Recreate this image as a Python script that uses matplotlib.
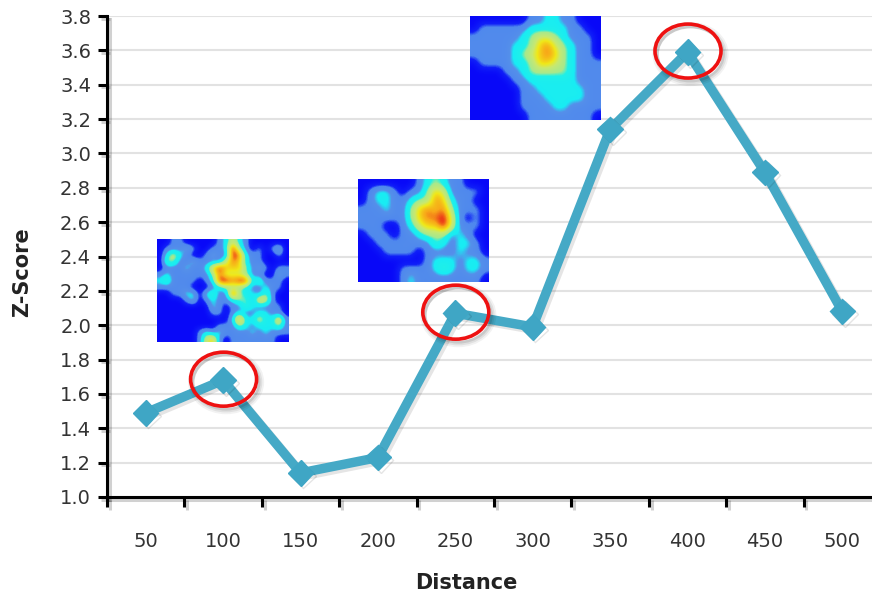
import matplotlib
matplotlib.use("Agg")
import matplotlib.pyplot as plt
import numpy as np
from matplotlib.colors import LinearSegmentedColormap
from matplotlib.patches import Ellipse
import matplotlib.patheffects as pe

categories = ["50", "100", "150", "200", "250", "300", "350", "400", "450", "500"]
z_scores = [1.49, 1.68, 1.14, 1.23, 2.07, 1.99, 3.14, 3.59, 2.89, 2.08]
y_ticks = [1.0, 1.2, 1.4, 1.6, 1.8, 2.0, 2.2, 2.4, 2.6, 2.8, 3.0, 3.2, 3.4, 3.6, 3.8]
highlighted = ["100", "250", "400"]

heat_100 = [
    [0,0,1,1,0,0,0,0,0,1,2,4,2,1,0,0,0,0,0,0],
    [0,1,1,1,2,1,0,0,1,1,2,7,3,1,0,1,0,1,2,0],
    [0,2,4,2,1,0,0,1,2,1,1,7,6,2,1,1,0,0,1,0],
    [0,3,3,1,1,2,1,1,1,1,4,6,5,2,1,1,0,0,0,0],
    [0,1,1,1,2,1,1,2,5,7,5,5,5,3,1,2,1,0,1,1],
    [1,2,1,1,1,1,1,1,3,6,4,4,4,3,1,1,0,0,2,1],
    [2,3,1,1,1,1,0,1,2,7,7,6,7,7,2,3,1,1,1,0],
    [1,1,1,1,1,0,0,0,1,2,3,3,3,2,1,1,2,1,1,0],
    [0,0,1,1,2,2,0,2,3,1,1,7,3,2,2,1,3,1,0,0],
    [0,0,0,0,1,2,0,1,2,1,1,2,3,3,1,5,4,1,0,0],
    [0,0,0,0,0,0,0,0,2,1,0,1,1,3,2,1,1,1,1,0],
    [0,0,0,0,0,0,0,0,1,1,0,1,2,1,1,2,2,1,1,0],
    [0,0,0,0,0,0,0,0,0,0,0,2,6,2,2,4,2,2,5,1],
    [0,0,0,0,0,0,0,0,0,1,1,1,3,2,1,2,2,2,3,1],
    [0,0,0,0,0,0,1,2,1,2,1,1,1,1,2,1,2,1,1,1],
    [0,0,0,0,0,0,1,4,5,1,0,1,1,1,1,1,1,1,0,0],
]
heat_250 = [
    [0,0,0,0,0,0,0,1,2,3,2,1,1,0,0,0],
    [0,1,2,2,1,0,1,1,3,5,4,1,1,1,1,0],
    [0,1,2,2,1,1,2,3,3,6,5,2,1,1,0,0],
    [1,1,1,2,1,1,3,5,6,5,6,3,1,1,1,0],
    [1,1,1,1,1,1,3,5,6,6,7,4,1,0,1,0],
    [1,1,1,0,0,1,2,4,5,5,7,4,1,1,1,0],
    [0,1,1,1,0,1,1,2,3,3,3,1,2,1,0,0],
    [0,0,1,1,1,1,1,1,1,3,2,1,2,2,1,0],
    [0,0,0,1,1,1,1,0,1,1,1,1,2,1,1,0],
    [0,0,0,0,0,0,0,0,1,2,2,2,1,2,2,1],
    [0,0,0,0,0,1,1,1,1,2,3,2,1,2,2,1],
    [0,0,0,0,0,1,2,1,1,1,1,1,1,1,1,0],
]
heat_400 = [
    [0,0,0,0,0,0,0,1,1,2,2,1,1,0,0,0],
    [0,1,1,1,1,1,1,2,2,2,2,2,1,1,0,0],
    [1,1,1,1,1,1,2,3,4,4,3,2,1,1,1,0],
    [1,1,1,1,1,2,2,3,5,6,4,3,2,1,1,0],
    [1,1,1,1,1,2,3,4,5,6,5,3,2,1,1,0],
    [0,1,1,1,1,2,2,3,5,5,4,3,2,1,1,1],
    [0,0,0,0,1,1,2,3,3,3,3,3,2,1,1,1],
    [0,0,0,0,0,1,1,2,2,2,2,2,2,1,1,1],
    [0,0,0,0,0,0,1,1,2,2,2,2,2,2,1,1],
    [0,0,0,0,0,0,1,1,1,2,2,2,2,2,1,1],
    [0,0,0,0,0,0,1,1,1,1,2,2,1,1,1,1],
    [0,0,0,0,0,0,0,1,1,1,1,1,1,1,1,0],
]

W, H = 872, 595
LEFT, RIGHT, TOP, BOTTOM = 107, 881, 16, 497
fig = plt.figure(figsize=(W / 100, H / 100), dpi=100, facecolor="white")
ax = fig.add_axes([LEFT / W, 1 - BOTTOM / H, (RIGHT - LEFT) / W, (BOTTOM - TOP) / H])
x = np.arange(len(categories))
ax.set_xlim(-0.5, len(categories) - 0.5)
ax.set_ylim(y_ticks[0], y_ticks[-1])

ax.set_yticks(y_ticks, [f"{v:.1f}" for v in y_ticks])
ax.set_xticks(x, categories)
ax.set_xticks(x[:-1] + 0.5, minor=True)
ax.grid(axis="y", color="#e2e2e2", lw=1.5, zorder=0)
ax.set_axisbelow(True)
for s in ("top", "right"):
    ax.spines[s].set_visible(False)
shadow = [pe.SimpleLineShadow(offset=(2, -2), shadow_color="#000000", alpha=0.18), pe.Normal()]
for s in ("left", "bottom"):
    ax.spines[s].set_linewidth(2.2)
    ax.spines[s].set_path_effects(shadow)
ax.tick_params(axis="y", length=6.5, width=2.2, pad=5, labelsize=14, labelcolor="#333333")
ax.tick_params(axis="x", which="major", length=0, pad=25, labelsize=14, labelcolor="#333333")
ax.tick_params(axis="x", which="minor", length=7, width=2.2)
for t in ax.yaxis.get_major_ticks() + ax.xaxis.get_minor_ticks():
    t.tick1line.set_path_effects(shadow)
# tick at the far left of the category band
ax.plot([-0.5, -0.5], [0, -10 / (BOTTOM - TOP)], transform=ax.get_xaxis_transform(),
        color="black", lw=2.2, clip_on=False, solid_capstyle="butt", path_effects=shadow)

ax.set_xlabel("Distance", fontweight="bold", fontsize=15, color="#222222")
ax.xaxis.set_label_coords((466 - LEFT) / (RIGHT - LEFT), -(583 - BOTTOM) / (BOTTOM - TOP), ax.transAxes)
ax.xaxis.label.set_va("center")
ax.set_ylabel("Z-Score", fontweight="bold", fontsize=15, color="#222222")
ax.yaxis.set_label_coords((22 - LEFT) / (RIGHT - LEFT), (BOTTOM - 272) / (BOTTOM - TOP), ax.transAxes)
ax.yaxis.label.set_va("center")

# heat map thumbnails
cmap = LinearSegmentedColormap.from_list("heat", [
    (0.00, "#0808f8"), (0.07, "#1020f8"), (0.11, "#4f88ee"), (0.20, "#5590ea"),
    (0.25, "#18ecf4"), (0.36, "#20f0e8"), (0.42, "#a8e88c"), (0.55, "#c8e870"),
    (0.66, "#f0e818"), (0.80, "#f8a818"), (0.90, "#ec3c18"), (1.00, "#c81010"),
])
thumb_boxes = [(heat_100, 157, 289, 239, 342), (heat_250, 358, 489, 179, 282), (heat_400, 470, 601, 16, 120)]
for grid, px0, px1, py0, py1 in thumb_boxes:
    inset = ax.inset_axes([(px0 - LEFT) / (RIGHT - LEFT), (BOTTOM - py1) / (BOTTOM - TOP),
                           (px1 - px0) / (RIGHT - LEFT), (py1 - py0) / (BOTTOM - TOP)], zorder=2)
    inset.imshow(np.array(grid, float), cmap=cmap, vmin=0, vmax=7, aspect="auto", interpolation="bicubic")
    inset.axis("off")

# series
line_shadow = [pe.SimpleLineShadow(offset=(2, -2), shadow_color="#000000", alpha=0.10), pe.Normal()]
ax.plot(x, z_scores, color="#45a9c6", lw=6.8, marker="D", ms=13, mfc="#3fa6c5", mec="#3fa6c5",
        solid_joinstyle="miter", zorder=4, clip_on=False, path_effects=line_shadow)

# red rings around highlighted points
x_scale = (RIGHT - LEFT) / len(categories)
y_scale = (BOTTOM - TOP) / (y_ticks[-1] - y_ticks[0])
ring_w, ring_h = 66 / x_scale, 54 / y_scale
for cat in highlighted:
    i = categories.index(cat)
    cy = z_scores[i]
    for grow, a in ((4, 0.05), (2, 0.07), (0, 0.10)):
        ax.add_patch(Ellipse((i + 3 / x_scale, cy - 2 / y_scale), ring_w + grow / x_scale, ring_h + grow / y_scale,
                             fill=False, ec="black", lw=2 + grow * 0.6, alpha=a, zorder=4.5))
    ax.add_patch(Ellipse((i + 0.5 / x_scale, cy + 1 / y_scale), ring_w, ring_h, fill=False, ec="#ee1111", lw=2.6, zorder=5))

fig.savefig("out.png", dpi=100)
